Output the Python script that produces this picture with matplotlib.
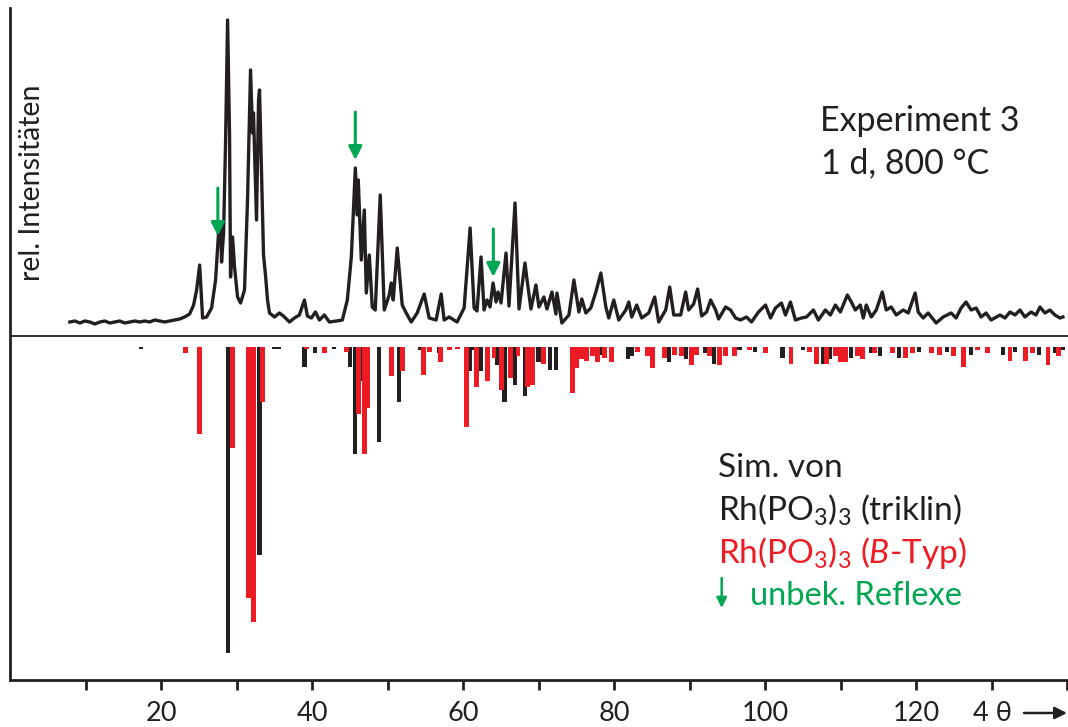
import matplotlib
matplotlib.use("Agg")
import matplotlib.pyplot as plt
import numpy as np

# measured pattern (4 theta scale, arbitrary counts above background line)
two_theta = [7.87, 8.53, 9.19, 9.85, 10.52, 11.18, 11.84, 12.50, 13.16, 13.82,
             14.48, 15.14, 15.80, 16.46, 17.12, 17.79, 18.45, 19.11, 19.77, 20.43,
             21.09, 21.75, 22.41, 23.07, 23.73, 24.26, 24.66, 25.06, 25.45, 25.98,
             26.64, 27.17, 27.57, 27.83, 27.96, 28.23, 28.49, 28.76, 29.02, 29.15,
             29.42, 29.68, 30.08, 30.48, 31.00, 31.40, 31.80, 32.06, 32.19, 32.59,
             32.86, 32.99, 33.25, 33.52, 33.78, 34.05, 34.31, 34.97, 35.63, 36.16,
             36.95, 37.61, 38.27, 38.94, 39.33, 39.86, 40.39, 40.92, 41.58, 42.24,
             43.17, 43.96, 44.62, 45.15, 45.68, 45.94, 46.07, 46.47, 46.87, 47.13,
             47.53, 47.92, 48.32, 48.98, 49.51, 50.17, 50.44, 50.70, 51.23, 51.89,
             52.42, 53.08, 53.87, 54.80, 55.46, 56.38, 57.05, 57.44, 58.10, 59.16,
             60.09, 60.88, 61.41, 61.80, 62.33, 62.73, 63.13, 63.52, 63.92, 64.32,
             64.58, 64.98, 65.64, 66.03, 66.83, 67.36, 68.15, 68.41, 68.94, 69.60,
             70.00, 70.66, 71.06, 71.72, 72.25, 72.38, 73.04, 73.97, 74.63, 75.29,
             75.68, 76.21, 76.87, 77.54, 78.20, 78.86, 79.25, 79.91, 80.57, 81.50,
             81.90, 82.29, 82.95, 83.61, 84.54, 85.33, 85.86, 86.79, 87.32, 87.85,
             88.77, 89.43, 89.83, 90.49, 91.02, 91.55, 92.21, 92.74, 93.40, 93.79,
             94.72, 95.38, 96.04, 96.70, 97.49, 98.15, 99.08, 100.01, 100.67, 101.33,
             102.12, 102.65, 103.31, 103.97, 104.77, 105.43, 106.35, 107.01, 107.94, 108.60,
             109.26, 109.92, 110.85, 111.38, 111.90, 112.56, 112.96, 113.36, 114.02, 114.68,
             115.47, 116.00, 116.66, 117.32, 118.25, 118.91, 119.83, 120.23, 120.89, 121.55,
             122.61, 123.54, 124.59, 125.25, 125.91, 126.57, 127.24, 127.90, 128.56, 129.22,
             129.88, 131.07, 131.73, 132.39, 133.05, 133.71, 134.37, 135.17, 135.83, 136.36,
             137.02, 137.68, 138.34, 139.00, 139.40]
intensity = [14, 15, 13, 15, 14, 12, 14, 15, 13, 14,
             15, 13, 14, 15, 14, 15, 14, 16, 15, 14,
             15, 16, 17, 19, 22, 31, 46, 71, 18, 19,
             28, 56, 104, 113, 74, 103, 193, 316, 201, 59,
             99, 69, 39, 33, 46, 136, 266, 203, 223, 116,
             236, 246, 166, 81, 61, 36, 23, 19, 23, 20,
             14, 18, 21, 36, 20, 18, 24, 16, 21, 14,
             15, 16, 36, 79, 168, 121, 156, 76, 126, 43,
             81, 29, 26, 141, 26, 41, 53, 36, 88, 31,
             23, 14, 23, 42, 18, 16, 42, 16, 19, 14,
             28, 108, 28, 25, 79, 26, 36, 29, 53, 34,
             44, 33, 83, 30, 133, 27, 73, 57, 27, 51,
             29, 39, 27, 44, 22, 43, 13, 21, 56, 24,
             37, 23, 28, 44, 63, 29, 18, 36, 16, 26,
             34, 19, 31, 18, 23, 39, 14, 26, 49, 21,
             21, 44, 26, 32, 47, 20, 24, 36, 26, 17,
             29, 26, 18, 16, 19, 14, 24, 31, 18, 28,
             33, 21, 34, 16, 18, 19, 26, 16, 26, 21,
             31, 24, 41, 34, 26, 31, 18, 31, 19, 26,
             44, 26, 29, 21, 26, 23, 43, 24, 18, 23,
             13, 19, 23, 18, 28, 34, 26, 28, 19, 23,
             16, 21, 18, 24, 21, 26, 19, 24, 21, 29,
             23, 26, 21, 18, 19]

# simulated reflections, Rh(PO3)3 triclinic (rel. intensity in %)
tric_pos = [17.26, 28.76, 32.99, 34.97, 35.50, 38.94, 40.39, 42.90, 45.02, 45.64,
            46.43, 48.85, 51.43, 54.27, 56.78, 60.88, 61.41, 62.25, 64.40, 65.44,
            66.80, 68.12, 68.94, 69.95, 71.49, 72.22, 78.33, 81.83, 82.29, 87.28,
            89.43, 92.04, 93.13, 96.57, 98.62, 102.25, 104.96, 107.60, 108.60, 111.32,
            114.02, 115.17, 117.67, 120.36, 124.06, 127.20, 131.47, 133.05, 136.23, 138.32,
            139.40]
tric_int = [0.5, 100, 68, 0.7, 0.7, 6.5, 2, 0.5, 6.5, 35,
            11, 31, 18, 1, 2, 8, 1, 8, 6, 18,
            12.5, 16, 5, 5, 7.5, 7.5, 2.5, 4, 3, 5,
            4, 2, 5.5, 1, 1.5, 3.5, 1, 5.5, 4, 3.5,
            2, 3, 3.5, 1.5, 1.5, 2.5, 2.5, 1.5, 2.5, 2,
            1]

# simulated reflections, Rh(PO3)3 B-type (rel. intensity in %)
btype_pos = [23.20, 25.06, 29.42, 31.53, 32.19, 33.38, 39.20, 41.58, 44.49, 46.07,
             46.87, 47.26, 50.44, 51.89, 54.67, 55.46, 56.91, 58.10, 59.16, 60.42,
             61.67, 63.17, 64.05, 65.08, 66.22, 67.22, 68.49, 69.17, 70.58, 74.49,
             75.02, 75.68, 76.31, 77.07, 77.75, 78.72, 79.57, 83.09, 84.33, 85.07,
             86.59, 87.98, 88.86, 90.22, 90.89, 92.61, 93.93, 94.72, 95.91, 97.89,
             99.98, 103.38, 105.78, 106.75, 108.06, 109.26, 109.92, 110.63, 112.22, 112.91,
             114.50, 116.77, 118.58, 119.48, 121.95, 123.11, 124.92, 126.29, 128.11, 129.46,
             132.39, 134.45, 135.37, 137.42, 138.87]
btype_int = [2, 28.5, 33, 82, 90, 18, 0.7, 2, 1.5, 22,
             35, 20, 9.5, 8, 9, 1.5, 5, 1, 0.5, 26,
             13, 11, 3.5, 14, 10, 3, 13, 12.5, 5.5, 15,
             7, 4, 4.5, 3, 5, 3.5, 5, 1.5, 3, 7,
             3.5, 2.5, 3, 6, 2.5, 3, 6, 3, 3, 1,
             2, 5.5, 1.5, 5.5, 5.5, 3, 5, 5, 3, 4,
             2, 2, 3.5, 2, 2, 2.5, 3, 6.5, 1, 2,
             4.5, 4.5, 2, 6, 3]

# reflections explained by neither phase
unknown_pos = [27.47, 45.68, 63.96]

x_ticks = [10, 20, 30, 40, 50, 60, 70, 80, 90, 100, 110, 120, 130, 140]
x_labels = ["", "20", "", "40", "", "60", "", "80", "", "100", "", "120", "4 θ", ""]

BLACK = "#231f20"
RED = "#ed1c24"
GREEN = "#00a651"

plt.rcParams["font.family"] = ["Lato", "DejaVu Sans"]
plt.rcParams["mathtext.fontset"] = "custom"
plt.rcParams["mathtext.rm"] = "Lato"
plt.rcParams["mathtext.it"] = "Lato:italic"

W, H = 1068, 727
fig = plt.figure(figsize=(W / 100, H / 100), dpi=100)
ax = fig.add_axes([10.45 / W, 47.4 / H, 142 * 7.55 / W, 671.6 / H])
ax.set_xlim(0, 142)
ax.set_ylim(-343.6, 328)

# measured curve on top, stick patterns hanging below the zero line
ax.plot(two_theta, intensity, color=BLACK, lw=2.4, solid_joinstyle="round")
ax.axhline(0, color=BLACK, lw=1.3)

gap, scale = 11, 3.06
ax.bar(tric_pos, -np.array(tric_int) * scale, bottom=-gap, width=0.55,
       color=BLACK, linewidth=0)
ax.bar(btype_pos, -np.array(btype_int) * scale, bottom=-gap, width=0.65,
       color=RED, linewidth=0)

arrow_kw = dict(arrowstyle="-|>", color=GREEN, lw=2.2, mutation_scale=20,
                shrinkA=0, shrinkB=0)
for pos in unknown_pos:
    tip = np.interp(pos, two_theta, intensity) + 8
    ax.annotate("", xy=(pos, tip), xytext=(pos, tip + 48), arrowprops=arrow_kw)

for side in ["top", "right"]:
    ax.spines[side].set_visible(False)
for side in ["left", "bottom"]:
    ax.spines[side].set_linewidth(2.0)
    ax.spines[side].set_color(BLACK)
ax.set_yticks([])
ax.set_xticks(x_ticks)
ax.set_xticklabels(x_labels)
ax.tick_params(axis="x", direction="out", length=7.5, width=2.0, pad=8,
               labelsize=19.5, colors=BLACK)

def fx(px):
    return px / W

def fy(py):
    return 1 - py / H

# axis arrow after the 4 theta label
ax.annotate("", xy=(1067, H - 713), xytext=(1024, H - 713), xycoords="figure pixels",
            arrowprops=dict(arrowstyle="-|>", color=BLACK, lw=1.8, mutation_scale=18,
                            shrinkA=0, shrinkB=0), annotation_clip=False)

fig.text(fx(32), fy(183), "rel. Intensitäten", rotation=90, ha="center", va="center",
         fontsize=20.5, color=BLACK)

fig.text(fx(820), fy(131), "Experiment 3", fontsize=24.5, color=BLACK, va="baseline")
fig.text(fx(821), fy(173), "1 d, 800 °C", fontsize=24.5, color=BLACK, va="baseline")

fig.text(fx(718), fy(477), "Sim. von", fontsize=24, color=BLACK, va="baseline")
fig.text(fx(718), fy(521), r"Rh(PO$_3$)$_3$ (triklin)", fontsize=24, color=BLACK,
         va="baseline")
fig.text(fx(718), fy(563), r"Rh(PO$_3$)$_3$ ($\it{B}$-Typ)", fontsize=24, color=RED,
         va="baseline")
fig.text(fx(750), fy(605), "unbek. Reflexe", fontsize=23.5, color=GREEN, va="baseline")
ax.annotate("", xy=(721.7, H - 608), xytext=(721.7, H - 578), xycoords="figure pixels",
            arrowprops=dict(arrowstyle="-|>", color=GREEN, lw=1.8, mutation_scale=15,
                            shrinkA=0, shrinkB=0), annotation_clip=False)

fig.savefig("out.png", dpi=100)
